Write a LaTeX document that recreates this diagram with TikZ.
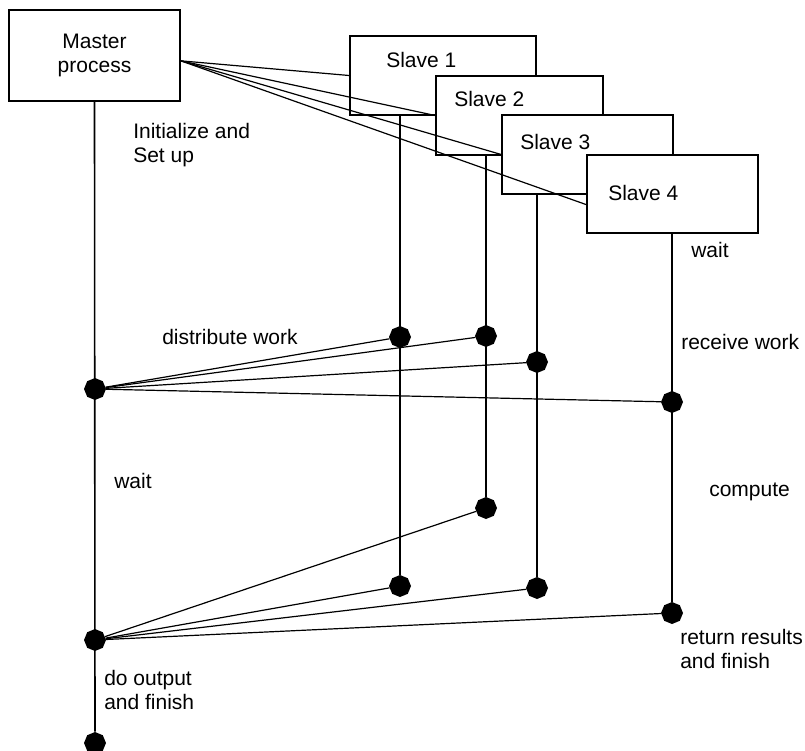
\documentclass[tikz,border=0pt]{standalone}
\usepackage{fontspec}
\setmainfont{Liberation Sans}
\usetikzlibrary{shapes.geometric, calc}
\tikzset{
  procbox/.style={draw, fill=white, line width=1.2pt, inner sep=0pt},
  msgdot/.style={regular polygon, regular polygon sides=8, shape border rotate=22.5, fill=black, inner sep=0pt, minimum size=16.5pt},
  lifeline/.style={line width=1.2pt},
  msgline/.style={line width=0.9pt},
  lbl/.style={anchor=west, inner sep=0pt, align=left, font=\fontsize{15.75}{18}\selectfont}
}

\begin{document}
\begin{tikzpicture}[x=0.75pt, y=-0.75pt]
  \useasboundingbox (0,0) rectangle (805,750);

  % Master and slave boxes
  \node[procbox, minimum width=128.25pt, minimum height=68.25pt, align=center, font=\fontsize{15.75}{18}\selectfont] (master) at (94.5,55.5) {Master\\process};
  \node[procbox, minimum width=139.5pt, minimum height=59.25pt] (slave1) at (443,75.5) {};
  \node[procbox, minimum width=125.25pt, minimum height=59.25pt] (slave2) at (519.5,115.5) {};
  \node[procbox, minimum width=128.25pt, minimum height=59.25pt] (slave3) at (587.5,154.5) {};
  \node[procbox, minimum width=128.25pt, minimum height=58.5pt] (slave4) at (672.5,194) {};
  \node[lbl] (s1name) at (386,60) {Slave 1};
  \node[lbl] (s2name) at (454,99) {Slave 2};
  \node[lbl] (s3name) at (520,142) {Slave 3};
  \node[lbl] (s4name) at (608,193) {Slave 4};

  % Spawning the slaves
  \draw[msgline] ([yshift=-4pt]master.east) -- (slave1.west);
  \draw[msgline] ([yshift=-4pt]master.east) -- (slave2.west);
  \draw[msgline] ([yshift=-4pt]master.east) -- (slave3.west);
  \draw[msgline] ([yshift=-4pt]master.east) -- (slave4.187);

  % Send and receive points
  \node[msgdot] (d0) at (95,389) {};
  \node[msgdot] (d1) at (400,337) {};
  \node[msgdot] (d2) at (486,336) {};
  \node[msgdot] (d3) at (537,362) {};
  \node[msgdot] (d4) at (672,402) {};
  \node[msgdot] (r0) at (95,640) {};
  \node[msgdot] (r1) at (400,586) {};
  \node[msgdot] (r2) at (486,508) {};
  \node[msgdot] (r3) at (537,588) {};
  \node[msgdot] (r4) at (672,613) {};
  \node[msgdot] (fin) at (95,743) {};

  % Lifelines
  \draw[lifeline] (master.south) -- (fin);
  \draw[lifeline] (d1 |- slave1.south) -- (r1);
  \draw[lifeline] (d2 |- slave2.south) -- (r2);
  \draw[lifeline] (d3 |- slave3.south) -- (r3);
  \draw[lifeline] (d4 |- slave4.south) -- (r4);

  % Distribute work
  \foreach \s in {d1, d2, d3, d4}
    \draw[msgline] (d0) -- (\s);

  % Return results
  \foreach \s in {r1, r2, r3, r4}
    \draw[msgline] (r0) -- (\s);

  % Phase labels
  \node[lbl] (init) at (133,145) {Initialize and\\Set up};
  \node[lbl] (swait) at (691,250) {wait};
  \node[lbl] (distr) at (162,337) {distribute work};
  \node[lbl] (recv) at (681,342) {receive work};
  \node[lbl] (mwait) at (114,481) {wait};
  \node[lbl] (comp) at (709,492) {compute};
  \node[lbl] (ret) at (680,649) {return results\\and finish};
  \node[lbl] (outp) at (104,690) {do output\\and finish};
\end{tikzpicture}
\end{document}
